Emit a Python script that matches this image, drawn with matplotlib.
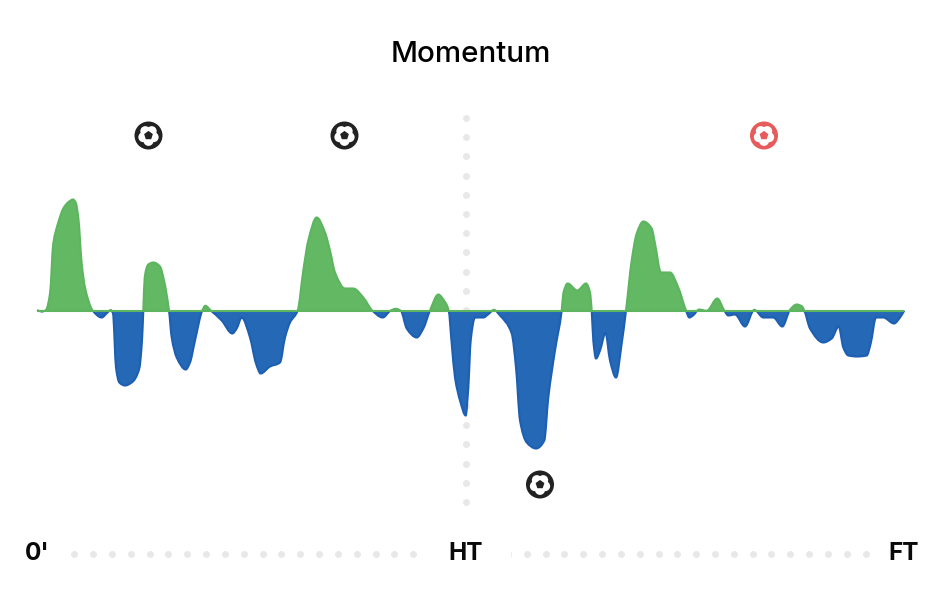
import numpy as np
import matplotlib
matplotlib.use("Agg")
import matplotlib.pyplot as plt
from matplotlib.path import Path
from matplotlib.patches import PathPatch, Rectangle, Circle, RegularPolygon

plt.rcParams['font.family'] = ['Inter', 'DejaVu Sans']

# match timeline position (0 = kick-off, 429 = HT, 867 = FT) and momentum, row by row
match_pos = [0, 4.7, 9, 13, 16.3, 21.3, 26.3, 31.5, 36, 38.7, 41.3, 44.7, 48, 55.7, 64.7, 70, 73.7,
             76, 79, 82.3, 88, 94.7, 102.3, 105, 106.3, 107.7, 111.3, 116.3, 123, 127, 132,
             134.7, 139.7, 148.7, 153, 158, 165.3, 168.3, 173.7, 184.7, 195.3, 199.7, 204.7,
             213, 219, 223.7, 233, 243, 248, 253, 260.7, 266.3, 271.3, 279.7,
             288, 293, 298, 308, 316.3, 326.3, 335.3, 345.7, 353.7, 359, 364, 369.7, 379.7, 386.3, 393, 401.3, 407, 411.7,
             414.7, 418, 423, 428.7, 431.3, 433.7, 438, 446.3, 451, 457, 463, 474.7, 479, 483, 489.7, 499, 507.3, 511.3, 518, 524.7,
             526.3, 530.7, 540.3, 549, 553, 554.7, 556.3, 559, 563, 568.5, 573, 579, 584.7, 589,
             594.7, 599.7, 606.3, 614.7, 618, 624, 633, 641.3, 649, 652.3, 656, 662, 669.7, 680.3, 687.3, 691.3, 698, 708,
             717.3, 726.3, 736.3, 745.3, 753, 759.7, 764.7, 767.3, 773, 786.3, 794.7, 801.7, 806.3, 811.3, 820, 829.7, 833.7, 839, 846.3, 857, 863, 867.3]
momentum = [0.5, -1, 0.5, 17, 67, 88, 102, 108.5, 111, 108, 93, 47, 23, 0, -7, -2.5, 0.5,
            -3, -57, -72, -75, -72, -58, -30, 0, 33, 46, 48, 44, 30, 0,
            -27, -47, -59, -52, -30, 0, 4.7, 0, -10, -23, -18, -7,
            -27, -53, -63, -56, -52, -27, -12, 0, 40, 70, 93,
            78, 60, 38, 22, 22, 13, 0, -7, 0, 1.7, -0.5, -18, -27, -18, 0, 16, 10, 0,
            -33, -67, -90, -105, -77, -30, -7, -7, -4, 0.7, -5, -23, -57, -110, -132, -138, -130, -87, -40, 0,
            17, 27, 20, 27, 18, 0, -30, -48, -40, -22.5, -50, -67, -33, 0,
            50, 77, 89, 82, 67, 38, 38, 23, 0, -7, -5, 1, -0.3, 12, 0, -5, -4, -16,
            0.7, -7, -7, -16, 0.7, 6, 4.3, 0, -18, -32, -28, -16, -37, -45, -46, -45, -33, -7, -7, -13, -7, 0]
assert len(match_pos) == len(momentum)

home_goals = [111.5, 307.5]
away_goals = [503]
own_goals = [727]
period_labels = ["0'", "HT", "FT"]

GREEN, GREEN_E = '#63b864', '#5db560'
BLUE, BLUE_E = '#2568b6', '#1c5fb3'
DARK, RED = '#222222', '#e65b5b'
DOT = '#e8e8e8'

fig = plt.figure(figsize=(9.44, 6.06), dpi=100)
ax = fig.add_axes([0, 0, 1, 1])
ax.set_xlim(-37, 907)
ax.set_ylim(-295.5, 310.5)
ax.axis('off')


def curve_path(x, y):
    x, y = np.asarray(x, float), np.asarray(y, float)
    h = np.diff(x)
    s = np.diff(y) / h
    m = np.zeros_like(y)
    m[0], m[-1] = s[0], s[-1]
    for i in range(1, len(y) - 1):
        if s[i - 1] * s[i] > 0:
            w1, w2 = 2 * h[i] + h[i - 1], h[i] + 2 * h[i - 1]
            m[i] = (w1 + w2) / (w1 / s[i - 1] + w2 / s[i])
    verts, codes = [(x[0], y[0])], [Path.MOVETO]
    for i in range(len(h)):
        verts += [(x[i] + h[i] / 3, y[i] + m[i] * h[i] / 3),
                  (x[i + 1] - h[i] / 3, y[i + 1] - m[i + 1] * h[i] / 3),
                  (x[i + 1], y[i + 1])]
        codes += [Path.CURVE4] * 3
    return verts, codes


# dotted guides (vertical passes behind the area)
ax.scatter([429] * 21, [192.5 - 19.2 * i for i in range(21)], s=25, c=DOT, lw=0, zorder=1)
ax.scatter([37.3 + 18.83 * i for i in range(19)], [-243] * 19, s=25, c=DOT, lw=0, zorder=1)
ax.scatter([489.7 + 18.83 * i for i in range(19)], [-243] * 19, s=25, c=DOT, lw=0, zorder=1)
ax.plot([473.5, 473.5], [-245, -241], color=DOT, lw=0.6, zorder=1)

verts, codes = curve_path(match_pos, momentum)
x0, xn = match_pos[0], match_pos[-1]
area = Path(verts + [(xn, 0), (x0, 0), (x0, 0)], codes + [Path.LINETO, Path.LINETO, Path.CLOSEPOLY])
line = Path(verts, codes)

for fill, edge, clip in ((GREEN, GREEN_E, (-37, 0, 944, 320)), (BLUE, BLUE_E, (-37, -300, 944, 300))):
    rect = Rectangle(clip[:2], clip[2], clip[3], transform=ax.transData)
    p = ax.add_patch(PathPatch(area, facecolor=fill, edgecolor='none', zorder=2))
    p.set_clip_path(rect)
    l = ax.add_patch(PathPatch(line, facecolor='none', edgecolor=edge, lw=1.5, zorder=3))
    l.set_clip_path(rect)
ax.plot([x0, xn], [0, 0], color=GREEN_E, lw=1.5, zorder=4, solid_capstyle='butt')


def ball(x, y, color):
    ax.add_patch(Circle((x, y), 14, fc=color, ec='none', zorder=5))
    ax.add_patch(Circle((x, y), 8, fc='white', ec='none', zorder=6))
    for k in range(5):
        a = np.pi / 2 + np.pi / 5 + k * 2 * np.pi / 5
        ax.add_patch(Circle((x + 5.4 * np.cos(a), y + 5.4 * np.sin(a)), 5, fc='white', ec='none', zorder=6))
    ax.add_patch(RegularPolygon((x, y), 5, radius=4.6, fc=color, ec='none', zorder=7))


for g in home_goals:
    ball(g, 175, DARK)
for g in away_goals:
    ball(g, -174, DARK)
for g in own_goals:
    ball(g, 175, RED)

ax.text(433.5, 256.5, 'Momentum', ha='center', va='center', fontsize=21.3, fontweight='medium', color='black')
for lab, px in zip(period_labels, (0, 429, 867)):
    ax.text(px, -243, lab, ha='center', va='center', fontsize=17.5, fontweight='bold', color='#0a0a0a')

fig.savefig('out.png', dpi=100)
